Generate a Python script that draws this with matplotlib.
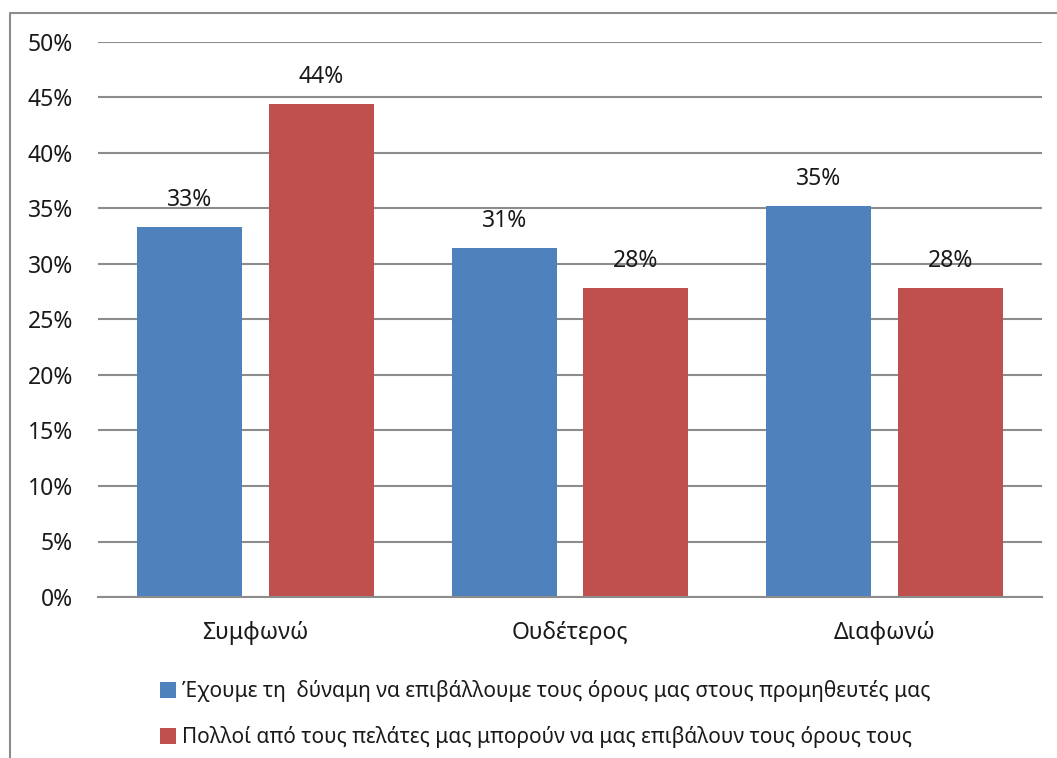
import numpy as np
import matplotlib.pyplot as plt
from matplotlib.lines import Line2D
from matplotlib.patches import Patch
from matplotlib.ticker import FuncFormatter

plt.rcParams['font.family'] = ['Noto Sans', 'DejaVu Sans']

categories = ['Συμφωνώ', 'Ουδέτερος', 'Διαφωνώ']
series_names = [
    'Έχουμε τη  δύναμη να επιβάλλουμε τους όρους μας στους προμηθευτές μας',
    'Πολλοί από τους πελάτες μας μπορούν να μας επιβάλουν τους όρους τους',
]
power_over_suppliers = [33.3, 31.4, 35.2]
customers_impose = [44.4, 27.8, 27.8]
colors = ['#4F81BD', '#C0504D']
yticks = [0, 5, 10, 15, 20, 25, 30, 35, 40, 45, 50]

fig = plt.figure(figsize=(10.57, 7.58), dpi=100)
ax = fig.add_axes([98 / 1057, 1 - 597 / 758, (1042 - 98) / 1057, (597 - 42) / 758])

x = np.arange(len(categories))
width = 0.334
offset = 0.209
grid_color = '#8C8C8C'
text_color = '#1a1a1a'

for vals, sign, col in [(power_over_suppliers, -1, colors[0]), (customers_impose, 1, colors[1])]:
    bars = ax.bar(x + sign * offset, vals, width, color=col, zorder=3)
    for b, v in zip(bars, vals):
        ax.annotate(f'{v:.0f}%', (b.get_x() + b.get_width() / 2, v),
                    xytext=(0, 11), textcoords='offset points',
                    ha='center', va='bottom', fontsize=16.5, color=text_color)

ax.set_xlim(-0.5, 2.5)
ax.set_ylim(0, 50)
ax.set_yticks(yticks)
ax.yaxis.set_major_formatter(FuncFormatter(lambda v, p: f'{v:.0f}%'))
ax.set_xticks(x)
ax.set_xticklabels(categories)
ax.tick_params(axis='y', length=0, pad=18, labelsize=16.5, labelcolor=text_color)
ax.tick_params(axis='x', length=0, pad=17, labelsize=16.5, labelcolor=text_color)
ax.grid(axis='y', color=grid_color, linewidth=1.5, zorder=0)
for s in ['left', 'right', 'top']:
    ax.spines[s].set_visible(False)
ax.spines['bottom'].set_color(grid_color)
ax.spines['bottom'].set_linewidth(1.5)
ax.spines['bottom'].set_zorder(4)

handles = [Patch(facecolor=c, edgecolor='none') for c in colors]
fig.legend(handles, series_names, loc='upper left',
           bbox_to_anchor=(152 / 1057, 1 - 672 / 758),
           frameon=False, fontsize=15, handlelength=0.75, handleheight=0.75,
           handletextpad=0.3, labelspacing=1.15, borderaxespad=0,
           labelcolor=text_color)

# outer chart frame
fig.add_artist(Line2D([10 / 1057, 10 / 1057, 1.0], [0.0, 1 - 13 / 758, 1 - 13 / 758],
                      transform=fig.transFigure, color='#8C8C8C', linewidth=1.5))

fig.savefig('out.png', dpi=100)
